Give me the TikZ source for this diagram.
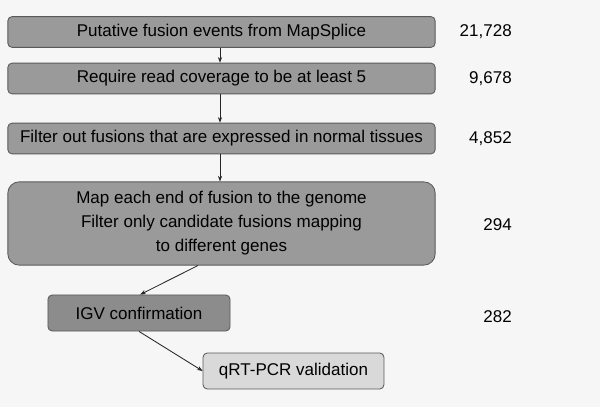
\documentclass[tikz,border=0pt]{standalone}
\usepackage{fontspec}
\setmainfont{Liberation Sans}
\usepackage{tikz}
\usetikzlibrary{arrows.meta}

\definecolor{boxgray}{HTML}{9A9A9A}
\definecolor{darkbox}{HTML}{8C8C8C}
\definecolor{lightbox}{HTML}{D9D9D9}
\definecolor{edgegray}{HTML}{5A5A5A}
\definecolor{bggray}{HTML}{F6F6F6}

\begin{document}
\begin{tikzpicture}[x=0.025cm,y=-0.025cm]
\tikzstyle{stage} = [draw=edgegray, line width=0.6pt, fill=boxgray, rounded corners=3pt, minimum width=10.68cm, minimum height=0.77cm, inner sep=0, font=\fontsize{12.1}{17}\selectfont]
\tikzstyle{count} = [anchor=east, inner sep=0, font=\fontsize{12.1}{14.6}\selectfont]
\tikzstyle{arr} = [draw=black!85, line width=0.6pt, -{Stealth[length=4pt,width=3pt]}]

% Fondo
\useasboundingbox[fill=bggray] (0,0) rectangle (600,407);

% Passi del filtro
\node[stage] (b1) at (221.5,32) {Putative fusion events from MapSplice};
\node[stage] (b2) at (221.5,78.5) {Require read coverage to be at least 5};
\node[stage] (b3) at (221.5,138.5) {Filter out fusions that are expressed in normal tissues};
\node[stage, minimum height=2.08cm, rounded corners=8pt, align=center] (b4) at (221.5,223.5)
  {Map each end of fusion to the genome\\Filter only candidate fusions mapping\\to different genes};
\node[stage, fill=darkbox, minimum width=4.55cm, minimum height=0.9cm] (b5) at (139,313) {IGV confirmation};
\node[stage, fill=lightbox, minimum width=4.52cm, minimum height=0.9cm] (b6) at (293.5,371) {qRT-PCR validation};

% Frecce
\coordinate (ax) at (220,0);
\draw[arr] (b1.south -| ax) -- (b2.north -| ax);
\draw[arr] (b2.south -| ax) -- (b3.north -| ax);
\draw[arr] (b3.south -| ax) -- (b4.north -| ax);
\draw[arr] ([xshift=-0.59cm]b4.south) -- ([xshift=0.03cm]b5.north);
\draw[arr] (b5.south) -- (b6.west);

% Conteggi
\foreach \val/\y [count=\i] in {{21,728}/32, {9,678}/78.5, {4,852}/138.5, 294/225, 282/317} {
  \node[count] (n\i) at (512,\y) {\val};
}

\end{tikzpicture}
\end{document}
